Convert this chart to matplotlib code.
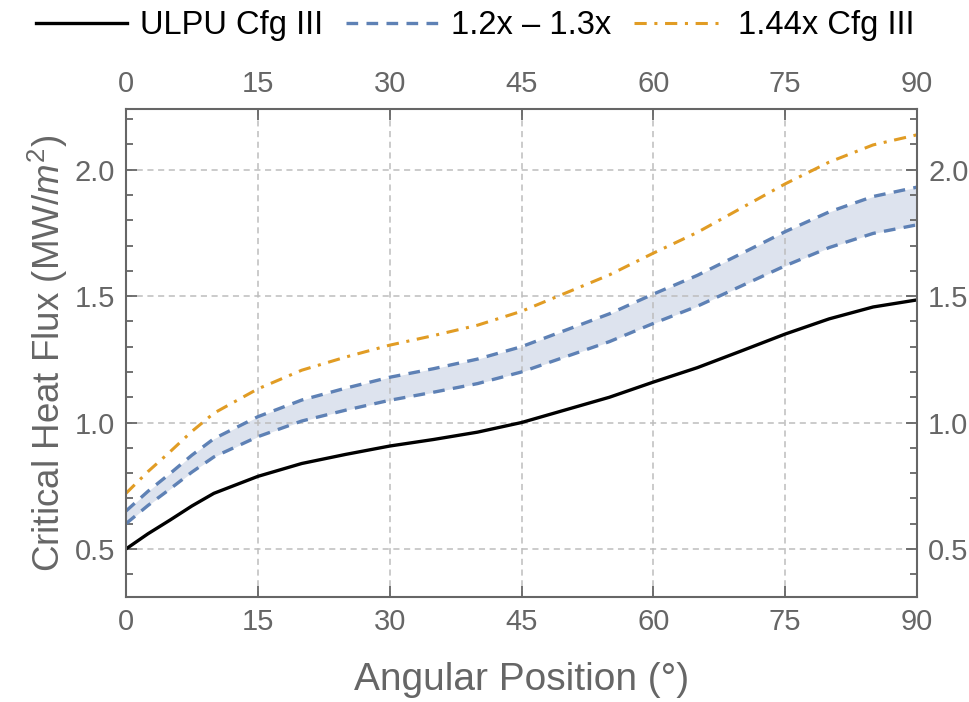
import matplotlib
matplotlib.use("Agg")
import matplotlib.pyplot as plt
from matplotlib.ticker import MultipleLocator

# angular position (deg)
angle = [0, 2.5, 5, 7.5, 10, 15, 20, 25, 30, 35, 40, 45, 50, 55, 60, 65, 70, 75, 80, 85, 90]
# ULPU Cfg III
chf_base = [0.50, 0.56, 0.614, 0.67, 0.72, 0.787, 0.838, 0.874, 0.907, 0.933, 0.962, 1.00,
            1.05, 1.10, 1.16, 1.217, 1.283, 1.35, 1.41, 1.457, 1.485]
# 1.2x band edge
chf_low = [0.60, 0.672, 0.737, 0.804, 0.864, 0.944, 1.006, 1.049, 1.088, 1.12, 1.154, 1.20,
           1.26, 1.32, 1.392, 1.46, 1.54, 1.62, 1.692, 1.748, 1.782]
# 1.3x band edge
chf_high = [0.65, 0.728, 0.798, 0.871, 0.936, 1.023, 1.089, 1.136, 1.179, 1.213, 1.251, 1.30,
            1.365, 1.43, 1.508, 1.582, 1.668, 1.755, 1.833, 1.894, 1.931]
# 1.44x Cfg III
chf_144 = [0.72, 0.806, 0.884, 0.965, 1.037, 1.133, 1.207, 1.259, 1.306, 1.344, 1.385, 1.44,
           1.512, 1.584, 1.670, 1.752, 1.848, 1.944, 2.030, 2.098, 2.138]

xticks = [0, 15, 30, 45, 60, 75, 90]
yticks = [0.5, 1.0, 1.5, 2.0]

plt.rcParams["font.family"] = ["Liberation Sans", "DejaVu Sans"]
plt.rcParams["mathtext.fontset"] = "custom"
plt.rcParams["mathtext.rm"] = "Liberation Sans"
plt.rcParams["mathtext.it"] = "Liberation Sans:italic"

gray = "#666666"
blue = "#5E81B5"
orange = "#E19C24"

fig = plt.figure(figsize=(9.7, 7.02), dpi=100)
ax = fig.add_axes([0.1299, 0.1496, 0.8155, 0.6951])

ax.fill_between(angle, chf_low, chf_high, color="#DDE3EE", lw=0)
l1, = ax.plot(angle, chf_base, color="black", lw=2.4, label="ULPU Cfg III")
l2, = ax.plot(angle, chf_low, color=blue, lw=2.4, ls=(0, (3.5, 2.5)), label="1.2x \u2013 1.3x")
ax.plot(angle, chf_high, color=blue, lw=2.4, ls=(0, (3.5, 2.5)))
l3, = ax.plot(angle, chf_144, color=orange, lw=2.2, ls=(0, (4, 2.5, 1, 2.5)), label="1.44x Cfg III")

ax.set_xlim(0, 90)
ax.set_ylim(0.31, 2.24)
ax.set_xticks(xticks)
ax.set_yticks(yticks)
ax.set_yticklabels(["%.1f" % v for v in yticks])
ax.yaxis.set_minor_locator(MultipleLocator(0.1))

ax.grid(True, which="major", color="#BDBDBD", ls=(0, (4, 3)), lw=1.1)
ax.tick_params(which="both", direction="in", top=True, right=True,
               labeltop=True, labelright=True, colors=gray, labelsize=21,
               width=1.3)
ax.tick_params(which="major", length=8, pad=8)
ax.tick_params(which="minor", length=5)
for s in ax.spines.values():
    s.set_color(gray)
    s.set_linewidth(1.5)

ax.set_xlabel("Angular Position (\u00b0)", fontsize=28, color=gray, labelpad=19)
ax.set_ylabel("Critical Heat Flux (MW/$m^2$)", fontsize=26.5, color=gray, labelpad=3)

fig.legend(handles=[l1, l2, l3], loc="center", bbox_to_anchor=(0.49, 0.963),
           ncol=3, frameon=False, handlelength=2.8, handletextpad=0.4,
           columnspacing=0.7, prop={"size": 23.5})

fig.savefig("out.png", dpi=100)
